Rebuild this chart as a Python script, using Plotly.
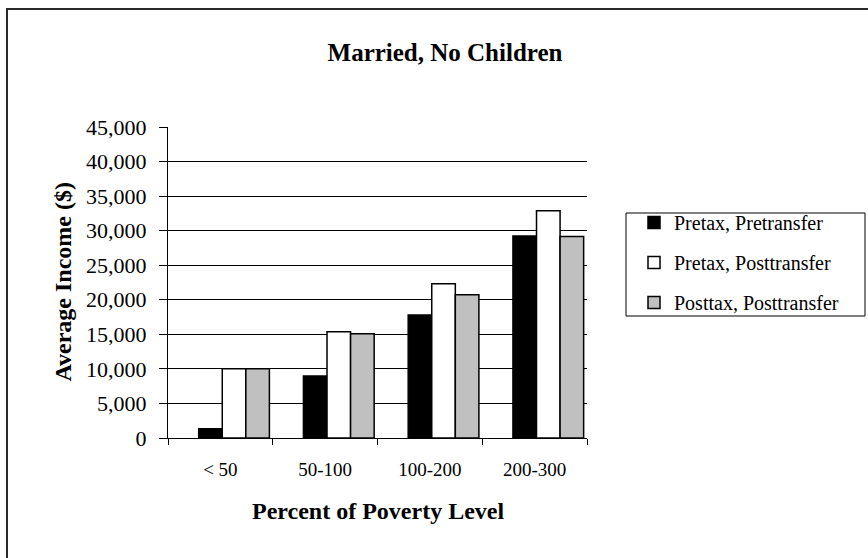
import plotly.graph_objects as go

# Average income by percent of poverty level, married couples with no children
categories = ["< 50", "50-100", "100-200", "200-300"]
pretax_pretransfer = [1350, 8970, 17790, 29220]
pretax_posttransfer = [10030, 15380, 22320, 32880]
posttax_posttransfer = [10030, 15090, 20730, 29170]

series_names = ["Pretax, Pretransfer", "Pretax, Posttransfer", "Posttax, Posttransfer"]
series_values = [pretax_pretransfer, pretax_posttransfer, posttax_posttransfer]
series_colors = ["#000000", "#ffffff", "#c0c0c0"]

y_ticks = [0, 5000, 10000, 15000, 20000, 25000, 30000, 35000, 40000, 45000]

SERIF = "Liberation Serif"
BAR_W = 0.225
BAR_START = -0.207

fig = go.Figure()
for i, (name, vals, col) in enumerate(zip(series_names, series_values, series_colors)):
    fig.add_trace(go.Bar(
        x=categories,
        y=vals,
        name=name,
        width=BAR_W,
        offset=BAR_START + i * BAR_W,
        marker=dict(color=col, line=dict(color="#000000", width=1.5)),
        legendgroup=name,
    ))

W, H = 868, 558
L, R, T, B = 168, 587, 127, 438
pw, ph = R - L, B - T


def px_x(v):
    return (v - L) / pw


def px_y(v):
    return (B - v) / ph


fig.update_layout(
    width=W,
    height=H,
    margin=dict(l=L, r=W - R, t=T, b=H - B, autoexpand=False),
    paper_bgcolor="#ffffff",
    plot_bgcolor="#ffffff",
    barmode="overlay",
    font=dict(family=SERIF, color="#000000"),
    showlegend=True,
    title=dict(
        text="<b>Married, No Children</b>",
        font=dict(family=SERIF, size=25, color="#000000"),
        xref="container", yref="container",
        x=445 / W, y=1 - 52 / H,
        xanchor="center", yanchor="middle",
    ),
    legend=dict(
        xref="container", yref="container",
        x=634 / W, y=1 - 203 / H,
        xanchor="left", yanchor="top",
        borderwidth=0,
        bgcolor="rgba(0,0,0,0)",
        font=dict(family=SERIF, size=20, color="#000000"),
        traceorder="grouped",
        tracegroupgap=11,
        itemclick=False, itemdoubleclick=False,
    ),
    xaxis=dict(
        type="category",
        categoryorder="array",
        categoryarray=categories,
        range=[-0.5, 3.5],
        showline=True, linecolor="#000000", linewidth=1,
        ticks="outside", tickson="boundaries", ticklen=6, tickcolor="#000000",
        tickfont=dict(family=SERIF, size=19, color="#000000"),
        ticklabelstandoff=14,
        showgrid=False,
        fixedrange=True,
    ),
    yaxis=dict(
        range=[0, 45000],
        tickvals=y_ticks,
        tickformat=",d",
        showline=True, linecolor="#000000", linewidth=1,
        ticks="outside", ticklen=8, tickcolor="#000000",
        tickfont=dict(family=SERIF, size=22, color="#000000"),
        ticklabelstandoff=8,
        showgrid=True, gridcolor="#000000", gridwidth=1,
        zeroline=False,
        fixedrange=True,
    ),
    annotations=[
        dict(
            text="<b>Percent of Poverty Level</b>",
            xref="paper", yref="paper",
            x=0.5, y=px_y(511),
            xanchor="center", yanchor="middle",
            showarrow=False,
            font=dict(family=SERIF, size=24, color="#000000"),
        ),
        dict(
            text="<b>Average Income ($)</b>",
            xref="paper", yref="paper",
            x=px_x(62), y=0.5,
            xanchor="center", yanchor="middle",
            textangle=-90,
            showarrow=False,
            font=dict(family=SERIF, size=24, color="#000000"),
        ),
    ],
    shapes=[
        # outer chart frame
        dict(
            type="rect",
            xref="paper", yref="paper",
            x0=px_x(7), x1=px_x(900),
            y0=px_y(600), y1=px_y(9),
            line=dict(color="#2a2a2a", width=2),
            fillcolor="rgba(0,0,0,0)",
            layer="below",
        ),
        # legend frame
        dict(
            type="rect",
            xref="paper", yref="paper",
            x0=px_x(626), x1=px_x(865),
            y0=px_y(316), y1=px_y(213),
            line=dict(color="#000000", width=1),
            fillcolor="rgba(0,0,0,0)",
            layer="below",
        ),
    ],
)

fig.write_html("out.html")
